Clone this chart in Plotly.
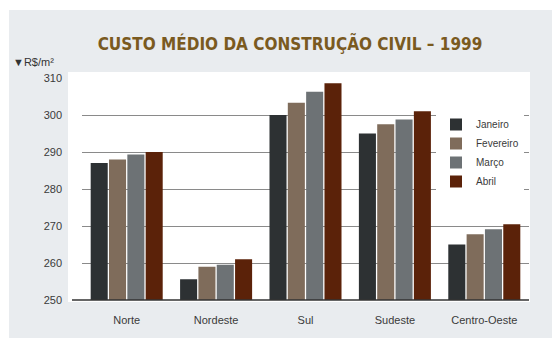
import plotly.graph_objects as go

regioes = ["Norte", "Nordeste", "Sul", "Sudeste", "Centro-Oeste"]
meses = ["Janeiro", "Fevereiro", "Março", "Abril"]
janeiro = [287.0, 255.6, 300.0, 295.0, 265.0]
fevereiro = [288.0, 259.0, 303.3, 297.5, 267.8]
marco = [289.3, 259.5, 306.3, 298.8, 269.1]
abril = [290.0, 261.0, 308.6, 301.0, 270.5]
y_ticks = [250, 260, 270, 280, 290, 300, 310]

series = [janeiro, fevereiro, marco, abril]
cores = ["#2d3133", "#7f6c5b", "#6d7275", "#5b2209"]

W, H = 558, 344
L, R, T, B = 82, 29, 78, 44
pw, ph = W - L - R, H - T - B

def px_x(px):
    return (px - L) / pw

def px_y(py):
    return (H - B - py) / ph

fig = go.Figure()
for nome, vals, cor in zip(meses, series, cores):
    fig.add_trace(go.Bar(x=regioes, y=vals, name=nome,
                         marker=dict(color=cor, line=dict(width=0))))

font_main = "Liberation Sans, Arial, sans-serif"

fig.update_layout(
    width=W, height=H,
    margin=dict(l=L, r=R, t=T, b=B, pad=0),
    paper_bgcolor="white",
    plot_bgcolor="rgba(0,0,0,0)",
    barmode="group", bargap=0.18, bargroupgap=0.07,
    font=dict(family=font_main, size=11, color="#3a3a3a"),
    title=dict(text="CUSTO MÉDIO DA CONSTRUÇÃO CIVIL – 1999",
               x=290 / W, xanchor="center", xref="container",
               y=1 - 44 / H, yanchor="middle", yref="container",
               font=dict(family="DejaVu Sans Condensed, Roboto, sans-serif",
                         size=17, color="#7a5a1f", weight="bold")),
    legend=dict(x=px_x(436), y=px_y(110), xanchor="left", yanchor="top",
                bgcolor="white", font=dict(size=10, color="#3a3a3a"),
                tracegroupgap=0, itemwidth=30, itemsizing="constant"),
    xaxis=dict(showgrid=False, showline=False, ticks="", tickfont=dict(size=11),
               ticklabelstandoff=12, fixedrange=True),
    yaxis=dict(range=[250, 310], tickvals=y_ticks, showgrid=True,
               gridcolor="#8a8a8a", gridwidth=1, zeroline=False,
               showline=False, ticks="", ticklabelstandoff=19,
               tickfont=dict(size=11)),
    shapes=[
        dict(type="rect", xref="paper", yref="paper", layer="below",
             x0=px_x(9), x1=px_x(552), y0=px_y(338), y1=px_y(10),
             fillcolor="#e9ecef", line=dict(width=0)),
        dict(type="rect", xref="paper", yref="paper", layer="below",
             x0=px_x(68), x1=px_x(530), y0=px_y(302), y1=px_y(72),
             fillcolor="white", line=dict(width=0)),
        dict(type="line", xref="paper", yref="paper", layer="above",
             x0=px_x(72), x1=px_x(529), y0=0, y1=0,
             line=dict(color="#333", width=1.5)),
    ],
    annotations=[
        dict(text="▼R$/m²", xref="paper", yref="paper",
             x=px_x(11), y=px_y(62), xanchor="left", yanchor="middle",
             showarrow=False, font=dict(size=11, color="#333")),
    ],
)

fig.write_html("out.html")
